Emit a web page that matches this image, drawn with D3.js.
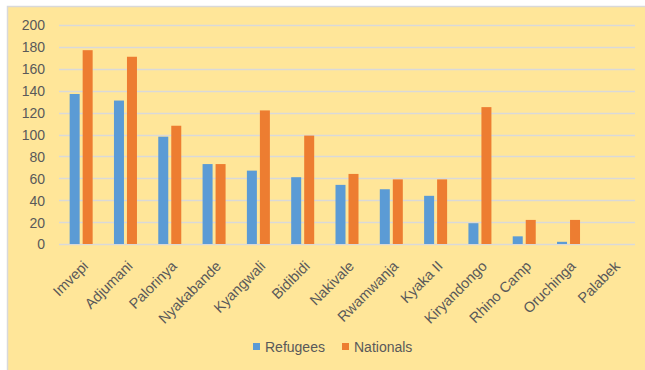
<!DOCTYPE html>
<html><head><meta charset="utf-8">
<script src="https://cdn.jsdelivr.net/npm/d3@7"></script>
<style>body{margin:0;background:#fff;}svg{display:block;}</style>
</head><body>
<svg id="c" width="645" height="370"></svg>
<script>
const categories = ["Imvepi","Adjumani","Palorinya","Nyakabande","Kyangwali","Bidibidi","Nakivale","Rwamwanja","Kyaka II","Kiryandongo","Rhino Camp","Oruchinga","Palabek"];
const refugees = [137,131,98,73,67,61,54,50,44,19,7,2,0];
const nationals = [177,171,108,73,122,99,64,59,59,125,22,22,0];
const seriesNames = ["Refugees","Nationals"];
const yTicks = [0,20,40,60,80,100,120,140,160,180,200];

(function(){
const colors = ["#5B9BD5","#ED7D31"];
const font = "'Liberation Sans', Arial, sans-serif";
const svg = d3.select("#c");
svg.append("rect").attr("x",7.5).attr("y",6.5).attr("width",645).attr("height",370)
  .attr("fill","#FFE699").attr("stroke","#d9d9d9").attr("stroke-width",1.5);

const pl=59, pr=635, pt=25, pb=244;
const x = d3.scaleBand().domain(categories).range([pl,pr]);
const y = d3.scaleLinear().domain([0,200]).range([pb,pt]);

const g = svg.append("g");
g.selectAll("line.grid").data(yTicks).join("line")
  .attr("x1",pl).attr("x2",pr).attr("y1",d=>Math.round(y(d))+0.5).attr("y2",d=>Math.round(y(d))+0.5)
  .attr("stroke","#d9d9d9").attr("stroke-width",1.3);

const yAxis = d3.axisLeft(y).tickValues(yTicks).tickSize(0).tickPadding(0);
const ya = svg.append("g").attr("transform",`translate(45,0)`).call(yAxis);
ya.select(".domain").remove();
ya.selectAll("text").attr("font-family",font).attr("font-size",14).attr("fill","#595959").attr("dy","0.35em");

const barW = 10, gap = 3;
const inner = d3.scaleBand().domain(seriesNames).range([0, 2*barW+gap]).paddingInner(gap/(barW+gap));
const data = categories.map((c,i)=>({c, vals:[refugees[i], nationals[i]]}));
const cg = svg.append("g").selectAll("g").data(data).join("g")
  .attr("transform",d=>`translate(${x(d.c)+x.bandwidth()/2-(2*barW+gap)/2},0)`);
cg.selectAll("rect").data(d=>d.vals.map((v,j)=>({v,s:seriesNames[j],j}))).join("rect")
  .attr("x",d=>inner(d.s)).attr("width",inner.bandwidth())
  .attr("y",d=>y(d.v)).attr("height",d=>pb-y(d.v))
  .attr("fill",d=>colors[d.j]);

const xAxis = d3.axisBottom(x).tickSize(0).tickPadding(0);
const xa = svg.append("g").attr("transform",`translate(0,${pb})`).call(xAxis);
xa.select(".domain").remove();
xa.selectAll("text").attr("font-family",font).attr("font-size",14.5).attr("fill","#595959")
  .attr("text-anchor","end").attr("dy",0)
  .attr("transform","translate(8,23) rotate(-45)");

const legend = svg.append("g").attr("transform","translate(253,343)");
const lx = [0, 89];
seriesNames.forEach((s,i)=>{
  legend.append("rect").attr("x",lx[i]).attr("y",0).attr("width",7).attr("height",7).attr("fill",colors[i]);
  legend.append("text").attr("x",lx[i]+12).attr("y",9).text(s)
    .attr("font-family",font).attr("font-size",14).attr("fill","#595959");
});
})();
</script>
</body></html>
